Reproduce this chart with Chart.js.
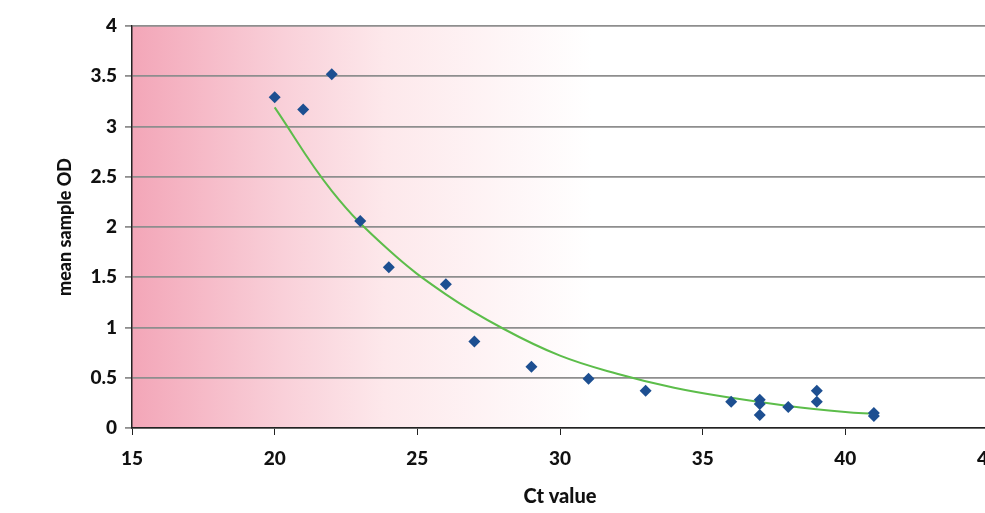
<!DOCTYPE html>
<html>
<head>
<meta charset="utf-8">
<script src="https://cdn.jsdelivr.net/npm/chart.js@4"></script>
<style>
  html, body { margin: 0; padding: 0; background: #fff; overflow: hidden; }
  #wrap { width: 1020px; height: 513px; }
</style>
</head>
<body>
<div id="wrap"><canvas id="myChart" width="1020" height="513"></canvas></div>
<script>
// measured points (Ct value, mean sample OD)
const ctValues = [20, 21, 22, 23, 24, 26, 27, 29, 31, 33, 36, 37, 37, 37, 38, 39, 39, 41, 41];
const odValues = [3.29, 3.17, 3.52, 2.06, 1.60, 1.43, 0.86, 0.61, 0.49, 0.37, 0.26, 0.28, 0.24, 0.13, 0.21, 0.37, 0.26, 0.15, 0.12];

// trend line
const trendX = [20, 22, 24, 26, 28, 30, 32, 34, 36, 38, 40, 41];
const trendY = [3.19, 2.36, 1.77, 1.33, 0.99, 0.72, 0.54, 0.40, 0.30, 0.22, 0.16, 0.14];

const xTicks = [15, 20, 25, 30, 35, 40, 45];
const yTicks = [0, 0.5, 1, 1.5, 2, 2.5, 3, 3.5, 4];

const ctx = document.getElementById("myChart");
const tickFont = { family: "Lato", size: 19, weight: "900" };

// pink fade behind the plot
const bgPlugin = {
  id: "bgFade",
  beforeDraw(chart) {
    const { ctx, chartArea: a } = chart;
    const g = ctx.createLinearGradient(a.left, 0, a.left + 460, 0);
    g.addColorStop(0, "rgb(243,166,184)");
    g.addColorStop(0.33, "rgb(249,208,217)");
    g.addColorStop(0.55, "rgb(253,232,235)");
    g.addColorStop(1, "rgb(255,255,255)");
    ctx.save();
    ctx.fillStyle = g;
    ctx.fillRect(a.left, a.top, a.right - a.left, a.bottom - a.top);
    ctx.restore();
  }
};

new Chart(ctx, {
  type: "scatter",
  data: {
    datasets: [
      {
        label: "trend",
        data: trendX.map((x, i) => ({ x: x, y: trendY[i] })),
        showLine: true,
        borderColor: "#5cbd4a",
        borderWidth: 2,
        pointRadius: 0,
        tension: 0.4,
        order: 2
      },
      {
        label: "samples",
        data: ctValues.map((x, i) => ({ x: x, y: odValues[i] })),
        pointStyle: "rectRot",
        pointRadius: 6,
        backgroundColor: "#1d4f91",
        borderColor: "#1d4f91",
        borderWidth: 0,
        order: 1
      }
    ]
  },
  options: {
    responsive: false,
    animation: false,
    layout: { padding: { top: 26, right: 32, left: 0, bottom: 0 } },
    plugins: { legend: { display: false }, tooltip: { enabled: false } },
    scales: {
      x: {
        type: "linear",
        min: 15,
        max: 45,
        afterBuildTicks: (s) => { s.ticks = xTicks.map(v => ({ value: v })); },
        afterFit: (s) => { s.height = 85; },
        ticks: { color: "#111", font: tickFont, padding: 12, callback: (v) => String(v) },
        grid: { drawOnChartArea: false, color: "#222", tickLength: 7, lineWidth: 1 },
        border: { color: "#222", width: 1.5 },
        title: { display: true, text: "Ct value", color: "#111", font: { family: "Lato", size: 20, weight: "900" }, padding: { top: 8 } }
      },
      y: {
        min: 0,
        max: 4,
        afterBuildTicks: (s) => { s.ticks = yTicks.map(v => ({ value: v })); },
        afterFit: (s) => { s.width = 132; },
        ticks: { color: "#111", font: tickFont, padding: 8, callback: (v) => String(v) },
        grid: { color: "#8e8e8e", lineWidth: 1.8, tickLength: 7 },
        border: { color: "#222", width: 1.5 },
        title: { display: true, text: "mean sample OD", color: "#111", font: { family: "Lato", size: 18, weight: "900" }, padding: { top: 54, bottom: 0 } }
      }
    }
  },
  plugins: [bgPlugin]
});
</script>
</body>
</html>
